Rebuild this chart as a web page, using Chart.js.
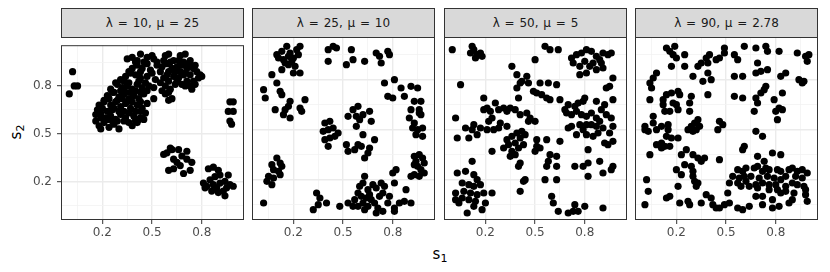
<!DOCTYPE html>
<html>
<head>
<meta charset="utf-8">
<script src="https://cdn.jsdelivr.net/npm/chart.js@4.4.1/dist/chart.umd.min.js"></script>
<style>
  body { margin: 0; background: #fff; width: 830px; height: 272px; position: relative; overflow: hidden;
         font-family: "DejaVu Sans", sans-serif; }
  .strip { position: absolute; top: 8px; height: 30px; box-sizing: border-box; background: #d9d9d9;
           border: 1px solid #333; text-align: center; font-size: 12px; line-height: 28px; color: #1a1a1a;
           word-spacing: 1px; }
  canvas { position: absolute; top: 33px; }
  .xtitle { position: absolute; left: 0; width: 880px; top: 245px; text-align: center; font-size: 15px; color: #000; }
  .ytitle { position: absolute; left: -13px; top: 122px; width: 60px; text-align: center; font-size: 15px;
            transform: rotate(-90deg); color: #000; }
  sub { font-size: 11px; vertical-align: -3px; }
</style>
</head>
<body>
<div class="xtitle">s<sub>1</sub></div>
<div class="ytitle">s<sub>2</sub></div>
<script>
const stripLabels = ['λ = 10, μ = 25', 'λ = 25, μ = 10', 'λ = 50, μ = 5', 'λ = 90, μ = 2.78'];
const majorBreaks = [0.2, 0.5, 0.8];
const minorBreaks = [0.05, 0.35, 0.65, 0.95];
const tickLabels = ['0.2', '0.5', '0.8'];

// lambda = 10, mu = 25
const s1Lam10 = [
  0.02, 0.03, 0.05, 0.00,
  0.97, 0.99, 0.96, 0.99, 0.97, 0.98,
  0.61, 0.59, 0.57, 0.62, 0.66, 0.71, 0.68, 0.63, 0.71, 0.74, 0.67, 0.63, 0.60, 0.69, 0.73, 0.65,
  0.84, 0.87, 0.90, 0.91, 0.88, 0.85, 0.83, 0.82, 0.87, 0.91, 0.94, 0.97, 0.99, 0.96, 0.93, 0.90, 0.86, 0.94, 0.89, 0.81, 0.95,
  0.35, 0.38, 0.41, 0.43, 0.47, 0.50, 0.51, 0.58, 0.60, 0.63, 0.67, 0.70, 0.73, 0.76,
  0.40, 0.45, 0.53, 0.57, 0.61, 0.66, 0.69, 0.72, 0.75,
  0.38, 0.41, 0.44, 0.47, 0.53, 0.56, 0.59, 0.62, 0.65, 0.68, 0.71, 0.74, 0.77, 0.80,
  0.36, 0.43, 0.49, 0.55, 0.60, 0.64, 0.67, 0.70, 0.73, 0.79,
  0.31, 0.34, 0.37, 0.40, 0.43, 0.47, 0.50, 0.52, 0.57, 0.59, 0.63, 0.66, 0.69, 0.71, 0.75, 0.78,
  0.28, 0.33, 0.36, 0.42, 0.46, 0.55, 0.60, 0.65, 0.70, 0.73,
  0.25, 0.29, 0.32, 0.35, 0.38, 0.41, 0.44, 0.48, 0.51, 0.58, 0.61, 0.64, 0.68, 0.74, 0.76,
  0.26, 0.31, 0.34, 0.37, 0.40, 0.43, 0.47, 0.56, 0.60,
  0.23, 0.27, 0.30, 0.33, 0.36, 0.39, 0.42, 0.45, 0.51, 0.58, 0.60, 0.62,
  0.21, 0.24, 0.29, 0.32, 0.35, 0.38, 0.43,
  0.18, 0.21, 0.25, 0.28, 0.31, 0.34, 0.37, 0.41, 0.44, 0.47, 0.26,
  0.17, 0.20, 0.23, 0.27, 0.30, 0.33, 0.36, 0.40, 0.43,
  0.16, 0.19, 0.22, 0.25, 0.28, 0.31, 0.34, 0.39, 0.42, 0.46, 0.45,
  0.19, 0.23, 0.26, 0.33, 0.36, 0.40, 0.43,
  0.16, 0.18, 0.21, 0.24, 0.27, 0.30, 0.29, 0.38, 0.41, 0.19
];
const s2Lam10 = [
  0.89, 0.80, 0.80, 0.75,
  0.70, 0.70, 0.64, 0.64, 0.58, 0.56,
  0.41, 0.38, 0.37, 0.40, 0.40, 0.39, 0.36, 0.34, 0.34, 0.32, 0.30, 0.28, 0.27, 0.25, 0.27, 0.32,
  0.28, 0.29, 0.27, 0.24, 0.23, 0.21, 0.17, 0.16, 0.18, 0.19, 0.20, 0.18, 0.17, 0.24, 0.14, 0.13, 0.14, 0.11, 0.16, 0.19, 0.16,
  0.97, 0.98, 0.96, 1.00, 0.98, 0.99, 0.97, 0.99, 1.00, 0.96, 0.99, 1.00, 0.96, 0.93,
  0.95, 0.95, 0.95, 0.96, 0.95, 0.96, 0.95, 0.94, 0.91,
  0.91, 0.93, 0.91, 0.94, 0.93, 0.92, 0.94, 0.91, 0.92, 0.93, 0.91, 0.92, 0.89, 0.86,
  0.89, 0.89, 0.90, 0.89, 0.89, 0.89, 0.89, 0.88, 0.87, 0.87,
  0.84, 0.86, 0.88, 0.87, 0.85, 0.86, 0.88, 0.84, 0.85, 0.87, 0.86, 0.85, 0.87, 0.83, 0.83, 0.85,
  0.82, 0.83, 0.82, 0.83, 0.82, 0.82, 0.83, 0.83, 0.80, 0.80,
  0.78, 0.81, 0.79, 0.80, 0.78, 0.81, 0.79, 0.80, 0.79, 0.80, 0.78, 0.81, 0.81, 0.78, 0.81,
  0.76, 0.77, 0.76, 0.76, 0.77, 0.76, 0.77, 0.77, 0.76,
  0.74, 0.76, 0.73, 0.75, 0.72, 0.74, 0.72, 0.75, 0.72, 0.75, 0.71, 0.72,
  0.71, 0.72, 0.71, 0.72, 0.70, 0.70, 0.70,
  0.68, 0.70, 0.68, 0.70, 0.67, 0.69, 0.66, 0.68, 0.66, 0.69, 0.65,
  0.65, 0.66, 0.64, 0.66, 0.64, 0.64, 0.63, 0.64, 0.64,
  0.62, 0.63, 0.60, 0.61, 0.59, 0.62, 0.60, 0.61, 0.59, 0.63, 0.59,
  0.60, 0.59, 0.58, 0.58, 0.57, 0.58, 0.60,
  0.58, 0.55, 0.57, 0.54, 0.56, 0.53, 0.58, 0.55, 0.57, 0.53
];

// lambda = 25, mu = 10
const s1Lam25 = [
  0.10, 0.13, 0.16, 0.18, 0.20, 0.22, 0.24, 0.23, 0.14, 0.15, 0.17, 0.19, 0.13, 0.20, 0.24, 0.17, 0.21, 0.11, 0.07,
  0.41, 0.44, 0.46, 0.41, 0.55, 0.56, 0.52, 0.63, 0.70, 0.72, 0.73, 0.77, 0.78,
  0.02, 0.03, 0.10, 0.12, 0.13, 0.09, 0.15, 0.18, 0.17, 0.14, 0.18, 0.24, 0.25, 0.27,
  0.75, 0.81, 0.77, 0.80, 0.85, 0.87, 0.91, 0.95, 0.93, 0.97, 0.96, 0.97, 0.90, 0.93, 0.95, 0.98, 0.92, 0.94, 0.98, 0.96, 0.91,
  0.39, 0.42, 0.38, 0.41, 0.44, 0.47, 0.39, 0.42, 0.45, 0.41, 0.53, 0.56, 0.59, 0.58, 0.60, 0.62, 0.66, 0.67, 0.58, 0.62,
  0.59, 0.52, 0.53, 0.57, 0.61, 0.65, 0.63, 0.69, 0.66,
  0.10, 0.12, 0.07, 0.13, 0.08, 0.11, 0.05, 0.08, 0.04, 0.07, 0.12, 0.02,
  0.93, 0.96, 0.98, 0.94, 0.93, 0.95, 0.99, 0.97, 0.93, 0.91, 0.96, 0.99,
  0.34, 0.36, 0.40, 0.35, 0.32, 0.48, 0.57, 0.59, 0.60, 0.63, 0.62, 0.65, 0.66, 0.68, 0.70, 0.73, 0.75, 0.74, 0.72, 0.67,
  0.64, 0.62, 0.65, 0.69, 0.71, 0.74, 0.59, 0.56, 0.53, 0.80, 0.82, 0.81, 0.88, 0.87, 0.84, 0.81, 0.91, 0.78, 0.77, 0.61,
  0.63, 0.70, 0.81
];
const s2Lam25 = [
  0.95, 0.97, 1.00, 0.96, 0.93, 0.98, 1.00, 0.95, 0.92, 0.90, 0.89, 0.91, 0.86, 0.84, 0.84, 0.94, 0.88, 0.93, 0.83,
  0.98, 1.00, 0.99, 0.91, 0.98, 0.92, 0.89, 0.91, 0.96, 0.94, 0.90, 0.97, 0.95,
  0.74, 0.69, 0.78, 0.73, 0.71, 0.62, 0.62, 0.67, 0.64, 0.59, 0.57, 0.63, 0.61, 0.68,
  0.78, 0.80, 0.70, 0.69, 0.75, 0.70, 0.76, 0.75, 0.67, 0.67, 0.62, 0.59, 0.57, 0.54, 0.50, 0.51, 0.51, 0.47, 0.46, 0.60, 0.62,
  0.54, 0.55, 0.49, 0.50, 0.51, 0.48, 0.44, 0.45, 0.46, 0.40, 0.58, 0.62, 0.64, 0.58, 0.56, 0.59, 0.61, 0.55, 0.52, 0.47,
  0.41, 0.41, 0.37, 0.38, 0.40, 0.36, 0.33, 0.44, 0.39,
  0.33, 0.30, 0.29, 0.28, 0.26, 0.25, 0.22, 0.21, 0.19, 0.17, 0.23, 0.06,
  0.34, 0.35, 0.33, 0.31, 0.29, 0.28, 0.30, 0.26, 0.23, 0.22, 0.22, 0.24,
  0.12, 0.09, 0.06, 0.05, 0.02, 0.04, 0.08, 0.12, 0.16, 0.22, 0.18, 0.14, 0.11, 0.17, 0.15, 0.18, 0.16, 0.12, 0.10, 0.08,
  0.09, 0.06, 0.04, 0.06, 0.03, 0.01, 0.04, 0.04, 0.06, 0.24, 0.26, 0.18, 0.14, 0.07, 0.06, 0.03, 0.06, 0.10, 0.06, 0.10,
  0.02, 0.00, 0.01
];

// lambda = 50, mu = 5
const s1Lam50 = [
  0.00, 0.12, 0.13, 0.11, 0.15, 0.17, 0.18, 0.14, 0.56, 0.59, 0.64, 0.50, 0.36, 0.72, 0.75, 0.78, 0.81, 0.84, 0.87, 0.89,
  0.91, 0.94, 0.96, 0.73, 0.77, 0.80, 0.83, 0.87, 0.91, 0.81, 0.77, 0.85, 0.90,
  0.05, 0.39, 0.41, 0.45, 0.46, 0.42, 0.39, 0.53, 0.58, 0.63, 0.51, 0.54, 0.57, 0.59, 0.49, 0.40, 0.19, 0.65, 0.97, 0.95,
  0.93, 0.97, 0.92, 0.87, 0.80, 0.76, 0.70, 0.68,
  0.19, 0.21, 0.23, 0.26, 0.28, 0.31, 0.33, 0.35, 0.38, 0.41, 0.45, 0.47, 0.46, 0.50, 0.22, 0.24, 0.29, 0.33, 0.28, 0.25,
  0.21, 0.17, 0.13, 0.12, 0.08, 0.02, 0.03, 0.10, 0.15,
  0.33, 0.36, 0.39, 0.42, 0.44, 0.41, 0.38, 0.34, 0.31, 0.36, 0.40, 0.43, 0.35, 0.38, 0.51, 0.53, 0.50, 0.51, 0.57, 0.59,
  0.63, 0.65, 0.24, 0.41, 0.40, 0.57, 0.63, 0.44, 0.43, 0.41, 0.56, 0.63, 0.58,
  0.69, 0.72, 0.75, 0.78, 0.81, 0.84, 0.87, 0.90, 0.93, 0.96, 0.97, 0.95, 0.92, 0.94, 0.97, 0.81, 0.84, 0.87, 0.89, 0.79,
  0.75, 0.77, 0.72, 0.70, 0.81, 0.85, 0.88, 0.91, 0.74, 0.79, 0.82,
  0.74, 0.79, 0.82, 0.89, 0.97, 0.96, 0.91, 0.82,
  0.12, 0.03, 0.08, 0.13, 0.15, 0.17, 0.06, 0.10, 0.13, 0.02, 0.07, 0.11, 0.15, 0.19, 0.24, 0.02, 0.06, 0.10, 0.14, 0.20,
  0.18, 0.09, 0.13, 0.04,
  0.60, 0.61, 0.64, 0.70, 0.73, 0.74, 0.76, 0.80, 0.91
];
const s2Lam50 = [
  0.98, 1.00, 0.98, 0.96, 0.95, 0.96, 0.94, 0.93, 1.00, 0.98, 0.98, 0.92, 0.88, 0.93, 0.95, 0.96, 0.98, 0.97, 0.94, 0.92,
  0.96, 0.95, 0.96, 0.90, 0.88, 0.91, 0.88, 0.86, 0.87, 0.84, 0.83, 0.90, 0.90,
  0.77, 0.83, 0.78, 0.82, 0.78, 0.79, 0.75, 0.78, 0.78, 0.77, 0.72, 0.71, 0.69, 0.68, 0.73, 0.69, 0.69, 0.68, 0.81, 0.76,
  0.75, 0.68, 0.65, 0.67, 0.69, 0.66, 0.65, 0.62,
  0.62, 0.63, 0.61, 0.66, 0.62, 0.63, 0.61, 0.63, 0.62, 0.59, 0.60, 0.57, 0.55, 0.55, 0.55, 0.57, 0.54, 0.52, 0.51, 0.50,
  0.50, 0.51, 0.53, 0.50, 0.51, 0.57, 0.45, 0.45, 0.47,
  0.44, 0.46, 0.48, 0.49, 0.47, 0.45, 0.42, 0.41, 0.39, 0.37, 0.39, 0.41, 0.34, 0.35, 0.44, 0.39, 0.37, 0.40, 0.44, 0.35,
  0.34, 0.43, 0.37, 0.30, 0.28, 0.28, 0.28, 0.20, 0.19, 0.13, 0.20, 0.20, 0.31,
  0.60, 0.59, 0.61, 0.59, 0.58, 0.60, 0.57, 0.62, 0.59, 0.57, 0.52, 0.48, 0.42, 0.41, 0.43, 0.53, 0.53, 0.52, 0.55, 0.50,
  0.47, 0.53, 0.52, 0.51, 0.47, 0.46, 0.48, 0.51, 0.64, 0.67, 0.38,
  0.28, 0.28, 0.30, 0.31, 0.28, 0.26, 0.24, 0.22,
  0.31, 0.24, 0.25, 0.23, 0.20, 0.17, 0.18, 0.17, 0.16, 0.12, 0.13, 0.12, 0.11, 0.12, 0.12, 0.08, 0.09, 0.08, 0.07, 0.06,
  0.02, 0.00, 0.04, 0.06,
  0.10, 0.06, 0.01, 0.00, 0.01, 0.05, 0.01, 0.04, 0.03
];

// lambda = 90, mu = 2.78
const s1Lam90 = [
  0.14, 0.16, 0.19, 0.20, 0.18, 0.17, 0.25, 0.25, 0.33, 0.35, 0.38, 0.40, 0.39, 0.44, 0.46, 0.49, 0.49, 0.55, 0.57, 0.61,
  0.68, 0.74, 0.75, 0.82, 0.93, 0.98, 1.00, 0.99, 0.69, 0.71, 0.68, 0.75, 0.55, 0.60, 0.83, 0.86, 0.94, 0.96, 0.97, 0.39,
  0.41, 0.36, 0.30, 0.08, 0.06, 0.04, 0.05,
  0.04, 0.12, 0.14, 0.17, 0.21, 0.22, 0.20, 0.21, 0.13, 0.16, 0.28, 0.28, 0.29, 0.39, 0.55, 0.60, 0.68, 0.69, 0.67, 0.71,
  0.73, 0.74, 0.79, 0.84, 0.82, 0.84, 0.80, 0.81, 0.12, 0.18,
  0.06, 0.06, 0.01, 0.03, 0.01, 0.08, 0.11, 0.15, 0.15, 0.14, 0.17, 0.21, 0.08, 0.11, 0.13, 0.16, 0.11, 0.27, 0.29, 0.31,
  0.33, 0.34, 0.32, 0.30, 0.46, 0.48, 0.45, 0.04, 0.26, 0.23,
  0.68, 0.72, 0.61, 0.60, 0.69, 0.73, 0.78, 0.83,
  0.30, 0.33, 0.35, 0.37, 0.25, 0.29, 0.30, 0.20, 0.23, 0.30, 0.31, 0.32, 0.33, 0.21, 0.02, 0.03, 0.01, 0.14, 0.16, 0.22,
  0.27, 0.28, 0.35, 0.38, 0.41, 0.46, 0.42, 0.46,
  0.57, 0.60, 0.62, 0.67, 0.69, 0.74, 0.72, 0.76, 0.81, 0.83, 0.88, 0.90, 0.93, 0.96, 0.99, 0.54, 0.58, 0.61, 0.65, 0.70,
  0.75, 0.79, 0.83, 0.86, 0.92, 0.96, 0.52, 0.57, 0.62, 0.68, 0.72, 0.76, 0.80, 0.86, 0.90, 0.93, 0.97, 0.98, 0.98, 0.91,
  0.86, 0.81, 0.76, 0.69, 0.64, 0.59, 0.68, 0.72, 0.78, 0.83, 0.88, 0.90, 0.99, 0.78, 0.72, 0.64, 0.60, 0.57, 0.52, 0.49,
  0.51, 0.44, 0.82
];
const s2Lam90 = [
  0.99, 0.97, 1.00, 0.93, 0.95, 0.88, 0.95, 0.88, 0.88, 0.90, 0.93, 0.95, 0.90, 0.92, 0.93, 0.99, 0.96, 0.95, 0.92, 1.00,
  0.99, 1.00, 0.97, 0.97, 0.96, 0.94, 0.95, 0.91, 0.90, 0.85, 0.84, 0.86, 0.82, 0.82, 0.82, 0.84, 0.80, 0.78, 0.79, 0.84,
  0.80, 0.79, 0.82, 0.84, 0.81, 0.78, 0.75,
  0.68, 0.68, 0.71, 0.72, 0.73, 0.71, 0.65, 0.62, 0.61, 0.61, 0.66, 0.61, 0.70, 0.71, 0.70, 0.69, 0.69, 0.66, 0.61, 0.72,
  0.74, 0.76, 0.68, 0.72, 0.63, 0.62, 0.61, 0.56, 0.65, 0.66,
  0.58, 0.54, 0.52, 0.49, 0.50, 0.50, 0.52, 0.53, 0.50, 0.46, 0.45, 0.45, 0.41, 0.42, 0.40, 0.40, 0.39, 0.50, 0.52, 0.54,
  0.56, 0.52, 0.50, 0.49, 0.55, 0.53, 0.50, 0.35, 0.38, 0.35,
  0.49, 0.46, 0.40, 0.38, 0.34, 0.31, 0.36, 0.35,
  0.35, 0.33, 0.31, 0.33, 0.29, 0.28, 0.25, 0.26, 0.23, 0.22, 0.19, 0.16, 0.18, 0.16, 0.20, 0.13, 0.05, 0.09, 0.10, 0.06,
  0.07, 0.05, 0.06, 0.11, 0.09, 0.32, 0.05, 0.03,
  0.26, 0.25, 0.27, 0.27, 0.28, 0.27, 0.25, 0.26, 0.26, 0.25, 0.26, 0.27, 0.25, 0.26, 0.24, 0.22, 0.21, 0.22, 0.22, 0.21,
  0.22, 0.21, 0.20, 0.22, 0.22, 0.21, 0.18, 0.18, 0.19, 0.17, 0.18, 0.17, 0.17, 0.16, 0.18, 0.17, 0.16, 0.14, 0.11, 0.12,
  0.13, 0.14, 0.14, 0.15, 0.16, 0.16, 0.10, 0.10, 0.08, 0.12, 0.06, 0.08, 0.07, 0.03, 0.05, 0.04, 0.02, 0.03, 0.06, 0.05,
  0.12, 0.03, 0.04
];

const xSeries = [s1Lam10, s1Lam25, s1Lam50, s1Lam90];
const ySeries = [s2Lam10, s2Lam25, s2Lam50, s2Lam90];

// layout of the facet grid
const panelLefts = [61, 252, 444, 635];
const PANEL_W = 183, PANEL_H = 183, PAD = 4, AXIS_H = 30, Y_AXIS_W = 61;

const allBreaks = [...majorBreaks, ...minorBreaks].sort((a, b) => a - b);
const isMajor = v => majorBreaks.indexOf(v) >= 0;

const panelBorder = {
  id: 'panelBorder',
  afterDatasetsDraw(chart) {
    const a = chart.chartArea, c = chart.ctx;
    c.save();
    c.strokeStyle = '#333333';
    c.lineWidth = 1;
    c.strokeRect(a.left + 0.5, a.top + 0.5, a.right - a.left - 1, a.bottom - a.top - 1);
    c.restore();
  }
};

function gridOpts(showTicks) {
  return {
    color: ctx => isMajor(ctx.tick.value) ? '#ebebeb' : '#f3f3f3',
    lineWidth: ctx => isMajor(ctx.tick.value) ? 1.4 : 0.8,
    drawTicks: showTicks,
    tickLength: 4,
    tickWidth: 1,
    tickColor: ctx => isMajor(ctx.tick.value) ? '#333333' : 'rgba(0,0,0,0)'
  };
}

function tickText(v) {
  const i = majorBreaks.indexOf(v);
  return i >= 0 ? tickLabels[i] : '';
}

function drawPanel(i) {
  const first = i === 0;
  const padL = first ? Y_AXIS_W : PAD;
  const canvas = document.createElement('canvas');
  canvas.width = padL + PANEL_W + PAD;
  canvas.height = PAD + PANEL_H + AXIS_H;
  canvas.style.left = (panelLefts[i] - padL) + 'px';
  document.body.appendChild(canvas);

  const strip = document.createElement('div');
  strip.className = 'strip';
  strip.style.left = panelLefts[i] + 'px';
  strip.style.width = PANEL_W + 'px';
  strip.textContent = stripLabels[i];
  document.body.appendChild(strip);

  const pts = xSeries[i].map((x, k) => ({ x: x, y: ySeries[i][k] }));

  new Chart(canvas.getContext('2d'), {
    type: 'scatter',
    data: {
      datasets: [{
        data: pts,
        backgroundColor: '#000000',
        borderWidth: 0,
        pointRadius: 3.6,
        clip: false
      }]
    },
    options: {
      responsive: false,
      animation: false,
      devicePixelRatio: 1,
      layout: { padding: { left: first ? 0 : PAD, right: PAD, top: PAD, bottom: 0 } },
      plugins: { legend: { display: false }, tooltip: { enabled: false } },
      scales: {
        x: {
          type: 'linear',
          min: -0.05,
          max: 1.055,
          border: { display: false },
          grid: gridOpts(true),
          afterBuildTicks: s => { s.ticks = allBreaks.map(v => ({ value: v })); },
          afterFit: s => { s.height = AXIS_H; },
          ticks: {
            autoSkip: false,
            maxRotation: 0,
            padding: 2,
            color: '#4d4d4d',
            font: { family: 'DejaVu Sans', size: 12 },
            callback: v => tickText(v)
          }
        },
        y: {
          type: 'linear',
          min: -0.042,
          max: 1.056,
          border: { display: false },
          grid: gridOpts(first),
          afterBuildTicks: s => { s.ticks = allBreaks.map(v => ({ value: v })); },
          afterFit: s => { s.width = first ? Y_AXIS_W : 0; },
          ticks: {
            display: first,
            autoSkip: false,
            padding: 5,
            color: '#4d4d4d',
            font: { family: 'DejaVu Sans', size: 12 },
            callback: v => tickText(v)
          }
        }
      }
    },
    plugins: [panelBorder]
  });
}

for (let i = 0; i < 4; i++) drawPanel(i);
</script>
</body>
</html>
